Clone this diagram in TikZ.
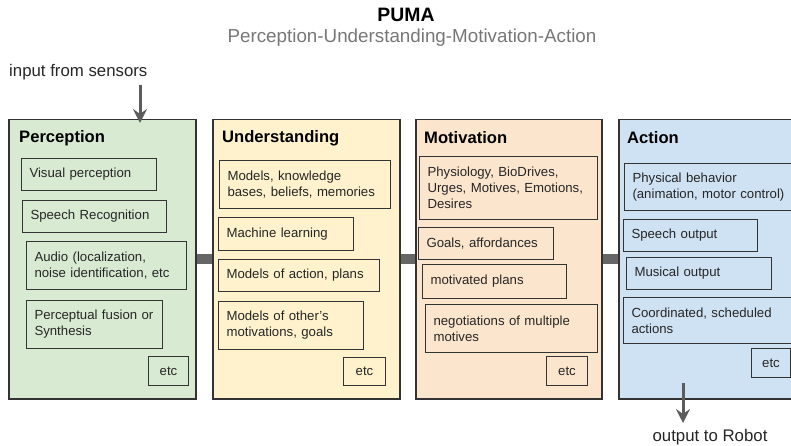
\documentclass[tikz,border=0pt]{standalone}
\usepackage{fontspec}
\setmainfont{Liberation Sans}
\usetikzlibrary{arrows.meta}
\definecolor{edge}{HTML}{333333}
\definecolor{percfill}{HTML}{D9EAD3}
\definecolor{undfill}{HTML}{FFF2CC}
\definecolor{motfill}{HTML}{FCE5CD}
\definecolor{actfill}{HTML}{CFE2F3}
\definecolor{barcol}{HTML}{666666}
\definecolor{subcol}{HTML}{777777}
\begin{document}
\begin{tikzpicture}[x=1pt,y=-1pt,
	stage/.style={draw=edge,line width=1.5pt,anchor=north west,inner sep=0pt,minimum height=279pt},
	heading/.style={anchor=west,inner sep=0pt,font=\fontsize{16.6}{19}\selectfont\bfseries},
	item/.style 2 args={draw=edge,line width=1pt,anchor=north west,inner xsep=8pt,inner ysep=0pt,
		align=left,text width=#1pt,minimum height=#2pt,text=black!85,font=\fontsize{13.2}{16}\selectfont},
	etcbox/.style 2 args={draw=edge,line width=1pt,anchor=north west,inner sep=0pt,
		minimum width=#1pt,minimum height=#2pt,text=black!85,font=\fontsize{13.2}{16}\selectfont},
	note/.style={inner sep=0pt,text=black!85,font=\fontsize{16.8}{19}\selectfont},
	link/.style={barcol,line width=10pt},
	flow/.style={barcol!90!black,line width=3pt,-{Stealth[length=14pt,width=14pt,inset=5pt]}}]
	\clip (0,0) rectangle (791,446);
	% title
	\node[font=\fontsize{19.4}{22}\selectfont\bfseries] (puma) at (406,15) {PUMA};
	\node[text=subcol,font=\fontsize{18.8}{22}\selectfont] (sub) at (412,38) {Perception-Understanding-Motivation-Action};
	% the four stages
	\node[stage,fill=percfill,minimum width=187pt] (perc) at (8,119) {};
	\node[stage,fill=undfill,minimum width=187pt] (und) at (212,119) {};
	\node[stage,fill=motfill,minimum width=186pt] (mot) at (415,119) {};
	\node[stage,fill=actfill,minimum width=200pt] (act) at (618,119) {};
	\draw[link] (perc) -- (und);
	\draw[link] (und) -- (mot);
	\draw[link] (mot) -- (act);
	\node[heading] (percT) at (19,138) {Perception};
	\node[heading] (undT) at (222,138) {Understanding};
	\node[heading] (motT) at (424,138) {Motivation};
	\node[heading] (actT) at (627,138) {Action};
	% perception
	\node[item={119}{32}] (vis) at (21,158) {Visual perception};
	\node[item={128}{32}] (speech) at (22,200) {Speech Recognition};
	\node[item={144}{48}] (audio) at (26,241) {Audio (localization,\\noise identification, etc};
	\node[item={120}{48}] (fusion) at (26,300) {Perceptual fusion or\\Synthesis};
	\node[etcbox={40}{29}] (etcP) at (148,356) {etc};
	% understanding
	\node[item={155}{48}] (models) at (219,160) {Models, knowledge\\bases, beliefs, memories};
	\node[item={119}{33}] (ml) at (218,217) {Machine learning};
	\node[item={145}{32}] (plans) at (218,259) {Models of action, plans};
	\node[item={129}{48}] (others) at (218,301) {Models of other’s\\motivations, goals};
	\node[etcbox={42}{28}] (etcU) at (343,357) {etc};
	% motivation
	\node[item={162}{63}] (phys) at (419,156) {Physiology, BioDrives,\\Urges, Motives, Emotions,\\Desires};
	\node[item={119}{32}] (goals) at (418,227) {Goals, affordances};
	\node[item={128}{34}] (mplans) at (422,264) {motivated plans};
	\node[item={156}{48}] (nego) at (425,304) {negotiations of multiple\\motives};
	\node[etcbox={41}{29}] (etcM) at (546,356) {etc};
	% action
	\node[item={156}{47}] (behav) at (624,163) {Physical behavior\\(animation, motor control)};
	\node[item={118}{32}] (sout) at (623,219) {Speech output};
	\node[item={129}{32}] (music) at (626,257) {Musical output};
	\node[item={157}{46}] (coord) at (623,297) {Coordinated, scheduled\\actions};
	\node[etcbox={39}{29}] (etcA) at (751,348) {etc};
	% input and output
	\node[note,anchor=west] (inTxt) at (9,72) {input from sensors};
	\coordinate (inS) at (140,85);
	\draw[flow,shorten >=-4pt] (inS) -- (inS |- perc.north);
	\node[note] (outTxt) at (710,437) {output to Robot};
	\coordinate (outS) at (683,383);
	\coordinate (outE) at (683,423);
	\draw[flow] (outS) -- (outE);
\end{tikzpicture}
\end{document}
